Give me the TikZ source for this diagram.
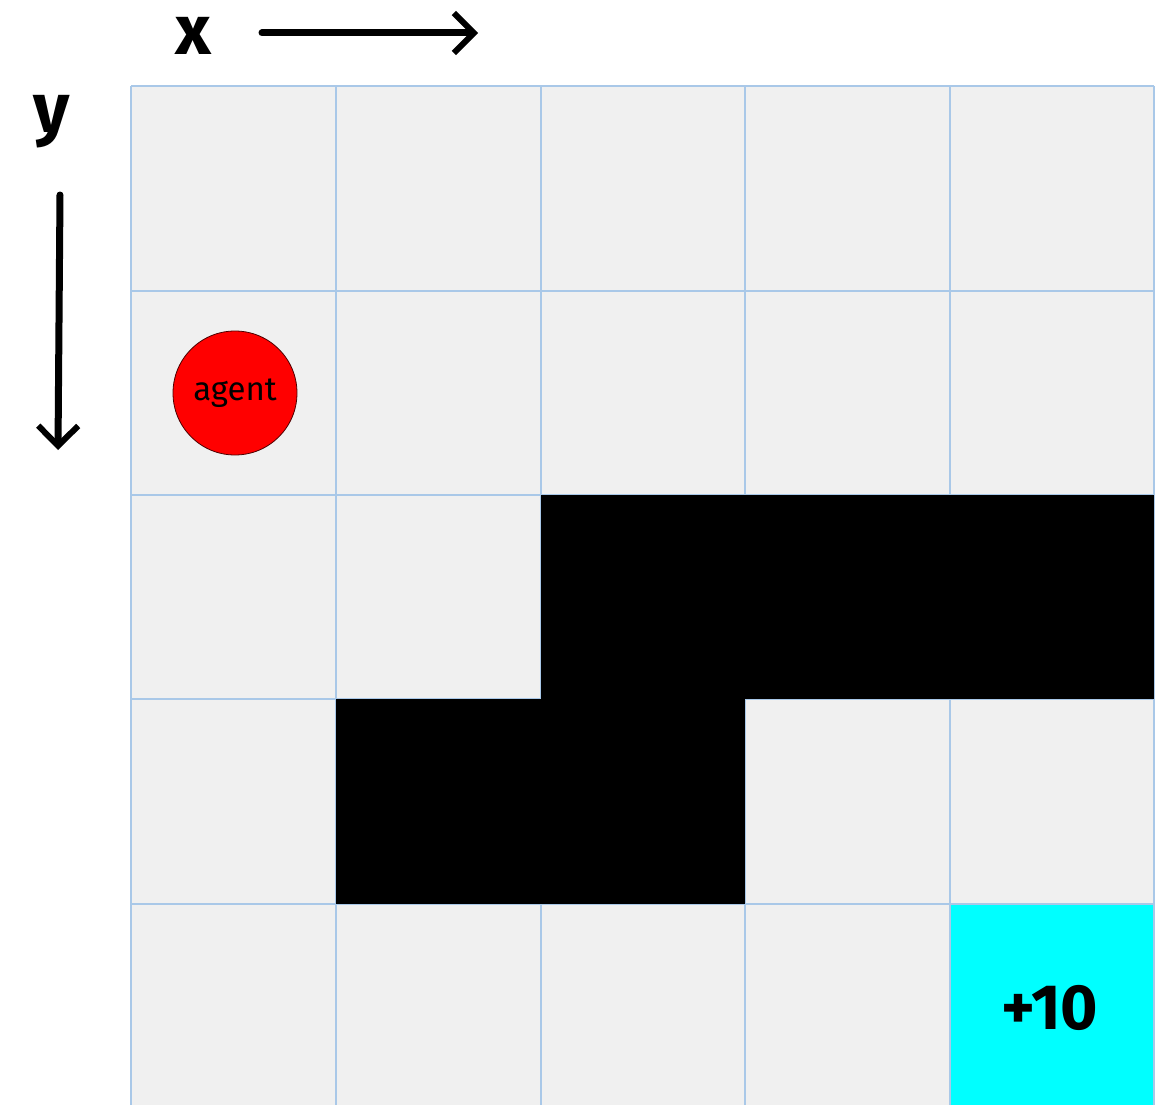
\documentclass[tikz,border=0pt]{standalone}
\usepackage{fontspec}
\setmainfont{Fira Sans}
\usetikzlibrary{arrows.meta}
\definecolor{cellgray}{HTML}{F0F0F0}
\definecolor{gridblue}{HTML}{A9C8E8}
\definecolor{goalcyan}{HTML}{00FFFF}
\definecolor{agentred}{HTML}{FF0000}
\tikzset{
  axis/.style={line width=7pt, -{Straight Barb[length=20pt,width=40pt,line width=6pt]}, line cap=round},
  axislabel/.style={font=\fontsize{70}{70}\selectfont\bfseries, inner sep=0pt},
  wall/.style={fill=black},
}
\begin{document}
\begin{tikzpicture}[x=1pt,y=-1pt]
\useasboundingbox (0,0) rectangle (1157,1105);
\fill[white] (0,0) rectangle (1157,1105);
% grid background
\fill[cellgray] (131,86) rectangle (1154,1105);
% goal
\fill[goalcyan] (950,904) rectangle (1154,1105);
% grid lines
\foreach \xx in {131,336,541,745,950,1154} \draw[gridblue, line width=1.2pt] (\xx,86) -- (\xx,1105);
\foreach \yy in {86,291,495,699,904} \draw[gridblue, line width=1.2pt] (131,\yy) -- (1154,\yy);
% walls
\fill[wall] (541,495) rectangle (1154,699);
\fill[wall] (336,699) rectangle (745,904);
% agent
\node[circle, fill=agentred, draw=black!70!red, line width=0.8pt, minimum size=124pt, inner sep=0pt,
      font=\fontsize{33}{33}\selectfont\mdseries] (agent) at (235,393) {agent};
% goal label
\node[font=\fontsize{64}{64}\selectfont\bfseries, inner sep=0pt] (goal) at (1050,1008) {+10};
% axes
\node[axislabel] (xl) at (193,36) {x};
\node[axislabel] (yl) at (52,122) {y};
\coordinate (xs) at (262,33);
\coordinate (xe) at (478,33);
\coordinate (ys) at (60,195);
\coordinate (ye) at (58,450);
\draw[axis] (xs) -- (xe);
\draw[axis] (ys) -- (ye);
\end{tikzpicture}
\end{document}
